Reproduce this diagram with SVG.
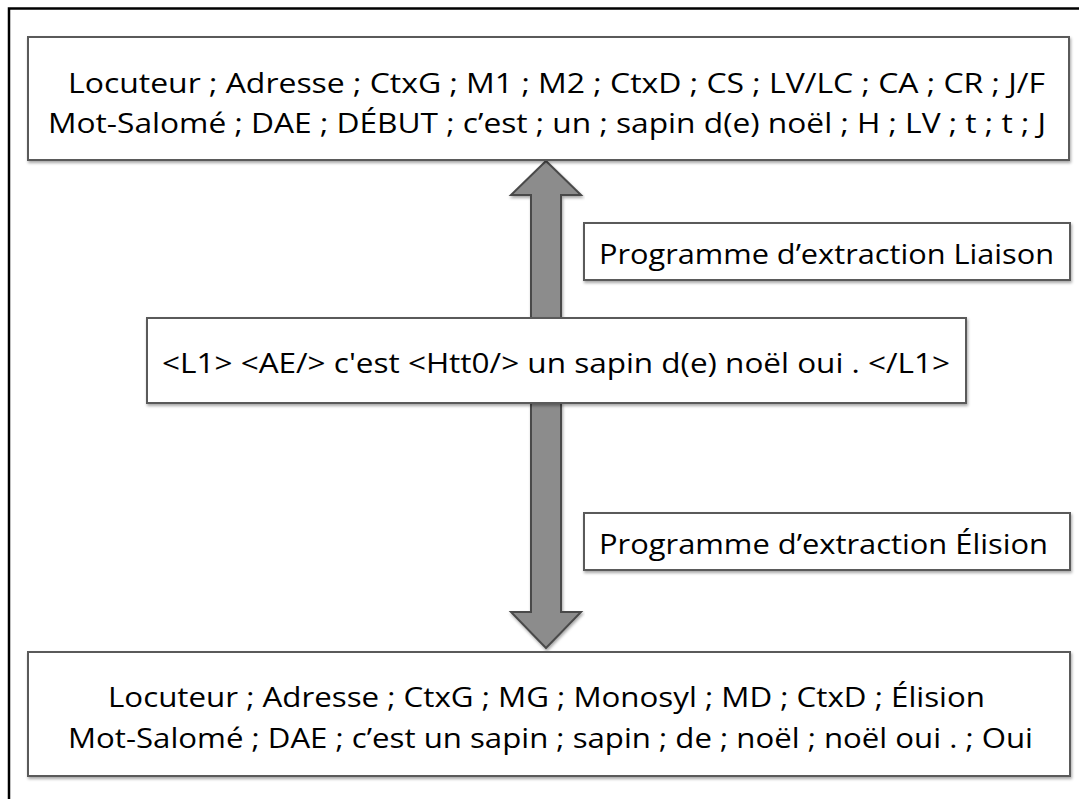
<svg xmlns="http://www.w3.org/2000/svg" width="1079" height="799" viewBox="0 0 1079 799">
<style>
.box{fill:#fff;stroke:#5a5a5a;stroke-width:2}
.t{font-family:"Open Sans","Liberation Sans",sans-serif;font-size:28px;fill:#000}
.arrow{fill:#8c8c8c;stroke:#4a4a4a;stroke-width:2}
</style>
<defs>
<filter id="sh" x="-5%" y="-5%" width="110%" height="120%">
<feDropShadow dx="1" dy="2" stdDeviation="1.5" flood-color="#000" flood-opacity="0.35"/>
</filter>
</defs>
<rect width="1079" height="799" fill="#fff"/>
<path d="M9 799 V8.5 H1079" fill="none" stroke="#000" stroke-width="2.5"/>
<g id="connectors">
<path class="arrow" filter="url(#sh)" d="M546 161 L581 195 L561 195 L561 318 L531 318 L531 195 L511 195 Z"/>
<path class="arrow" filter="url(#sh)" d="M531 403 L561 403 L561 612 L581 612 L546 648 L511 612 L531 612 Z"/>
</g>
<g id="top">
<rect class="box" filter="url(#sh)" x="28" y="37" width="1041" height="123"/>
<text class="t" x="68" y="93" textLength="977" lengthAdjust="spacingAndGlyphs">Locuteur ; Adresse ; CtxG ; M1 ; M2 ; CtxD ; CS ; LV/LC ; CA ; CR ; J/F</text>
<text class="t" x="48" y="133" textLength="998" lengthAdjust="spacingAndGlyphs">Mot-Salomé ; DAE ; DÉBUT ; c’est ; un ; sapin d(e) noël ; H ; LV ; t ; t ; J</text>
</g>
<g id="liaison">
<rect class="box" filter="url(#sh)" x="584" y="223" width="486" height="57"/>
<text class="t" x="599" y="264" textLength="455" lengthAdjust="spacingAndGlyphs">Programme d’extraction Liaison</text>
</g>
<g id="middle">
<rect class="box" filter="url(#sh)" x="147" y="318" width="819" height="85"/>
<text class="t" x="162" y="373" textLength="788" lengthAdjust="spacingAndGlyphs">&lt;L1&gt; &lt;AE/&gt; c'est &lt;Htt0/&gt; un sapin d(e) noël oui . &lt;/L1&gt;</text>
</g>
<g id="elision">
<rect class="box" filter="url(#sh)" x="584" y="513" width="486" height="57"/>
<text class="t" x="599" y="554" textLength="449" lengthAdjust="spacingAndGlyphs">Programme d’extraction Élision</text>
</g>
<g id="bottom">
<rect class="box" filter="url(#sh)" x="28" y="652" width="1042" height="124"/>
<text class="t" x="108" y="707" textLength="877" lengthAdjust="spacingAndGlyphs">Locuteur ; Adresse ; CtxG ; MG ; Monosyl ; MD ; CtxD ; Élision</text>
<text class="t" x="68" y="748" textLength="965" lengthAdjust="spacingAndGlyphs">Mot-Salomé ; DAE ; c’est un sapin ; sapin ; de ; noël ; noël oui . ; Oui</text>
</g>
</svg>
